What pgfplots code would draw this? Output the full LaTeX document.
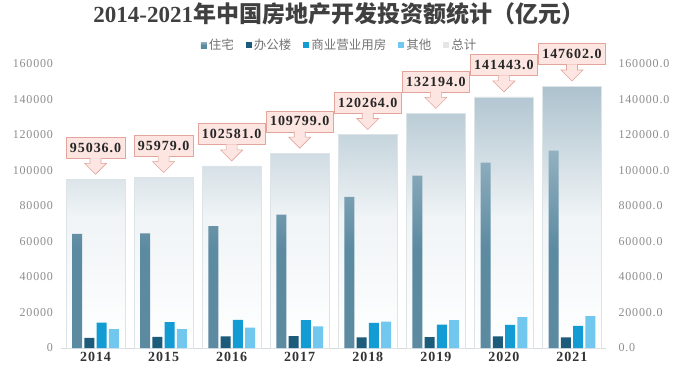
\documentclass[border=0pt]{standalone}
\usepackage{pgfplots}
\pgfplotsset{compat=1.18}
\usepackage{pgfplotstable}
\usepackage{fontspec}
\setmainfont{Liberation Serif}
\newfontfamily\cjk{Noto Sans CJK SC}
\newfontfamily\spaced{Liberation Serif}[LetterSpace=7]
\definecolor{zzT}{HTML}{92B1C0}
\definecolor{zzB}{HTML}{5C8AA1}
\definecolor{bangong}{HTML}{1D5B7B}
\definecolor{shangye}{HTML}{129CD3}
\definecolor{qita}{HTML}{72C7EE}
\definecolor{zongT}{HTML}{ADC2CE}
\definecolor{zongM}{HTML}{F0F4F6}
\definecolor{zongE}{HTML}{DDE4E8}
\definecolor{callF}{HTML}{FDE6E2}
\definecolor{callD}{HTML}{E3A49B}
\definecolor{tickc}{HTML}{8C8C8C}

\pgfdeclareplotmark{callarrow}{%
  \pgfpathmoveto{\pgfqpoint{-5.5pt}{21.6pt}}%
  \pgfpathlineto{\pgfqpoint{-5.5pt}{16pt}}%
  \pgfpathlineto{\pgfqpoint{-11pt}{16pt}}%
  \pgfpathlineto{\pgfqpoint{0pt}{5pt}}%
  \pgfpathlineto{\pgfqpoint{11pt}{16pt}}%
  \pgfpathlineto{\pgfqpoint{5.5pt}{16pt}}%
  \pgfpathlineto{\pgfqpoint{5.5pt}{21.6pt}}%
  \pgfusepathqfillstroke}

\pgfplotstableread{
x zz bg sy qt zj
0 64352 5641 14346 10697 95036
1 64595 6210 14607 10567 95979
2 68704 6533 15838 11506 102581
3 75148 6761 15640 12250 109799
4 85192 5996 14177 14899 120264
5 97071 6163 13226 15734 132194
6 104446 6494 13076 17427 141443
7 111173 5974 12445 18010 147602
}\data

\begin{document}
\begin{tikzpicture}
\useasboundingbox (-61.5pt,-28pt) rectangle (616.5pt,348pt);
\begin{axis}[
  at={(0,0)}, anchor=south west,
  scale only axis, width=544.5pt, height=284pt,
  xmin=-0.5, xmax=7.5, ymin=0, ymax=160000,
  xtick={0,1,2,3,4,5,6,7},
  xticklabels={2014,2015,2016,2017,2018,2019,2020,2021},
  x tick label style={font=\spaced\bfseries\fontsize{14}{14}\selectfont, text=black!80, yshift=-1pt},
  ytick={0,20000,40000,60000,80000,100000,120000,140000,160000},
  scaled y ticks=false,
  yticklabel={\pgfmathprintnumber[fixed,precision=0,1000 sep={},assume math mode=true]{\tick}},
  y tick label style={font=\spaced\fontsize{12}{12}\selectfont, text=tickc, xshift=-5pt},
  axis x line*=bottom, axis y line*=left,
  x axis line style={draw=black!15, line width=0.6pt, -},
  y axis line style={draw=none},
  major tick length=0pt, tick style={draw=none},
  /pgf/number format/assume math mode=true,
  title={{\bfseries 2014-2021}{\cjk\bfseries 年中国房地产开发投资额统计（亿元）}},
  title style={at={(0.5,1)}, anchor=center, yshift=44pt, xshift=5pt, font=\fontsize{23}{23}\selectfont, text=black!75},
  legend style={at={(0.5,1)}, anchor=center, yshift=19pt, xshift=6pt, draw=none, fill=none,
    font=\cjk\fontsize{12.5}{12.5}\selectfont, text=black!55,
    /tikz/every even column/.append style={column sep=10pt}},
  legend columns=5,
  legend image code/.code={\fill[#1] (0pt,-3pt) rectangle (6pt,3pt);},
]
\addplot[ybar, forget plot, bar shift=0, bar width=0.862, draw=zongE, line width=0.6pt,
  top color=zongT, bottom color=white, middle color=zongM,
  nodes near coords,
  every node near coord/.append style={
    font=\spaced\bfseries\fontsize{14}{14}\selectfont, text=black!85,
    anchor=south, yshift=21pt, fill=callF, draw=callD, line width=0.6pt,
    minimum height=21pt, inner xsep=4pt, inner ysep=2pt,
    /pgf/number format/fixed, /pgf/number format/fixed zerofill,
    /pgf/number format/precision=1, /pgf/number format/1000 sep={}}
  ] table[x=x, y=zj] {\data};
\addplot[only marks, forget plot, mark=callarrow,
  mark options={draw=callD, fill=callF, line width=0.6pt}] table[x=x, y=zj] {\data};
\addplot[ybar, bar width=0.147, bar shift=-0.27, draw=none, top color=zzT, bottom color=zzB, middle color=zzB] table[x=x, y=zz] {\data};
\addlegendentry{住宅}
\addplot[ybar, bar width=0.147, bar shift=-0.09, draw=none, fill=bangong] table[x=x, y=bg] {\data};
\addlegendentry{办公楼}
\addplot[ybar, bar width=0.147, bar shift=0.09, draw=none, fill=shangye] table[x=x, y=sy] {\data};
\addlegendentry{商业营业用房}
\addplot[ybar, bar width=0.147, bar shift=0.27, draw=none, fill=qita] table[x=x, y=qt] {\data};
\addlegendentry{其他}
\addlegendimage{fill=black!10, draw=none}
\addlegendentry{总计}
\end{axis}
\begin{axis}[
  at={(0,0)}, anchor=south west,
  scale only axis, width=544.5pt, height=284pt,
  xmin=-0.5, xmax=7.5, ymin=0, ymax=160000,
  hide x axis, axis y line*=right, y axis line style={draw=none},
  major tick length=0pt, tick style={draw=none},
  ytick={0,20000,40000,60000,80000,100000,120000,140000,160000},
  scaled y ticks=false,
  yticklabel={\pgfmathprintnumber[fixed,fixed zerofill,precision=1,1000 sep={},assume math mode=true]{\tick}},
  y tick label style={font=\spaced\fontsize{12}{12}\selectfont, text=tickc, xshift=9pt},
]
\addplot[draw=none, forget plot] coordinates {(0,0)};
\end{axis}
\end{tikzpicture}
\end{document}
